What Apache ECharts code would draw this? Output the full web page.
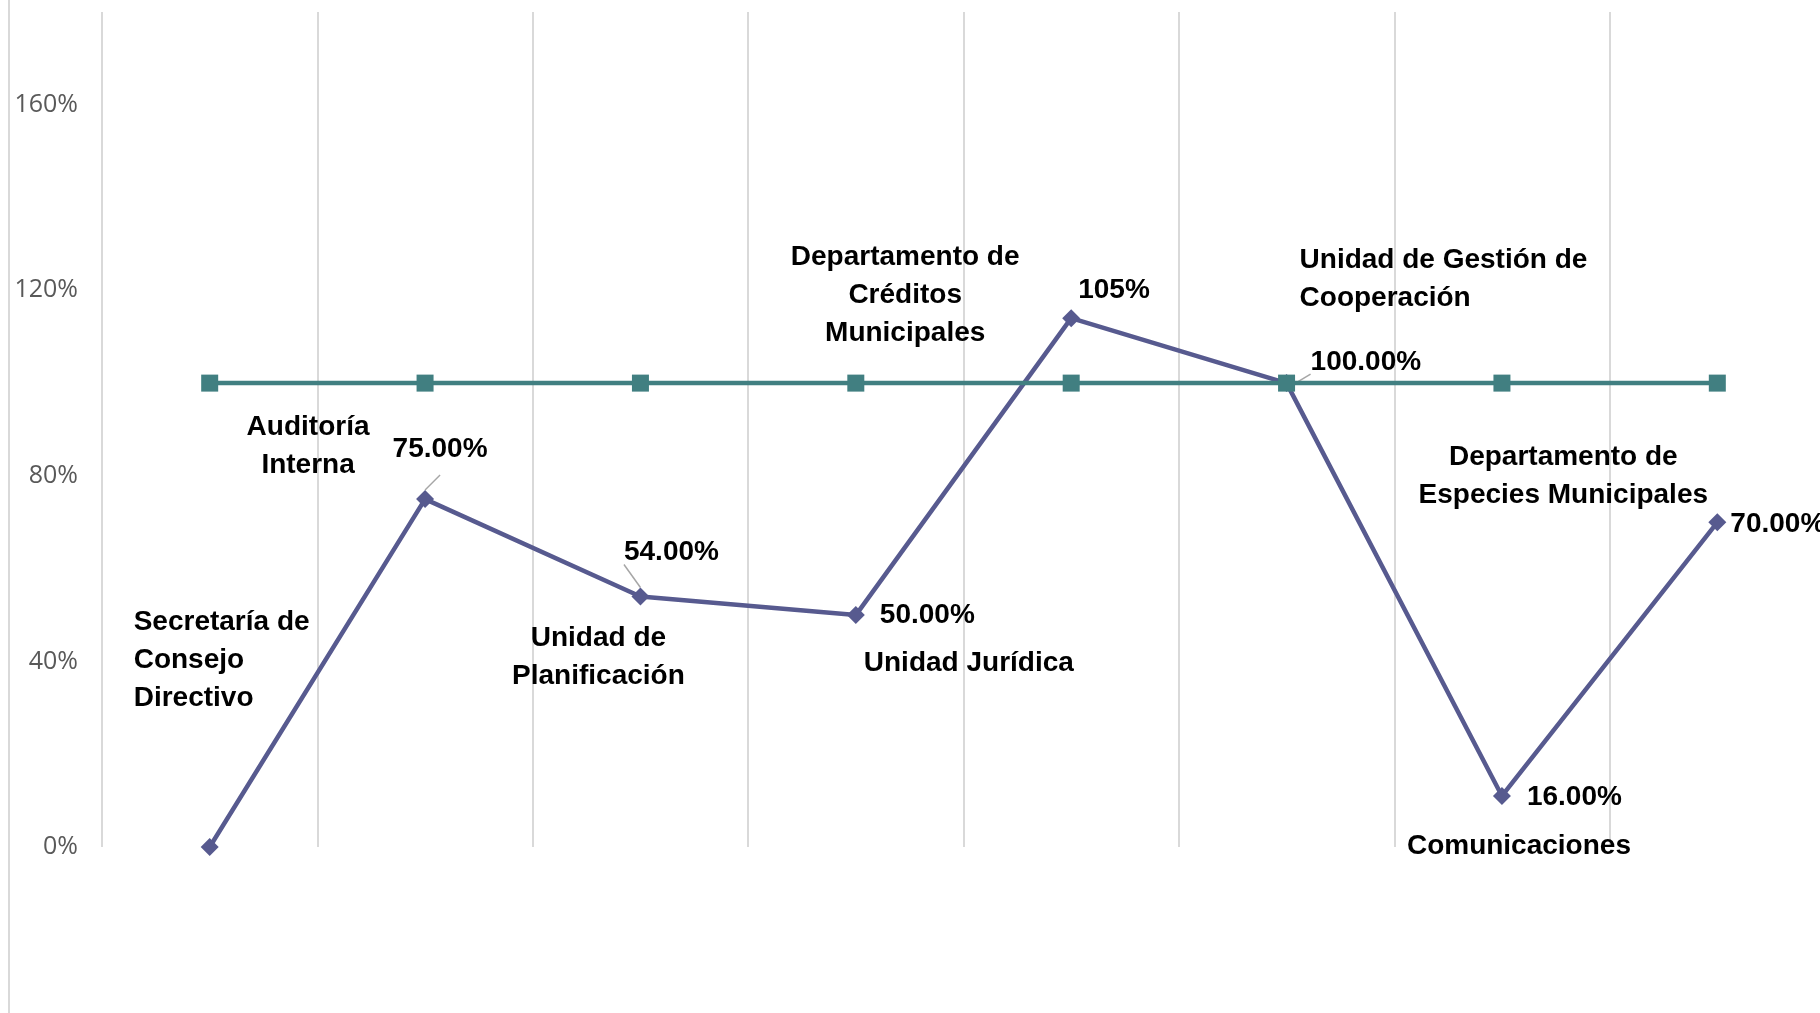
<!DOCTYPE html>
<html>
<head>
<meta charset="utf-8">
<script src="https://cdn.jsdelivr.net/npm/echarts@6/dist/echarts.min.js"></script>
<style>
html,body{margin:0;padding:0;background:#ffffff;}
#chart{width:1820px;height:1013px;}
</style>
</head>
<body>
<div id="chart"></div>
<script>
// ---- data ----
const categories = [
  'Secretaría de\nConsejo\nDirectivo',
  'Auditoría\nInterna',
  'Unidad de\nPlanificación',
  'Unidad Jurídica',
  'Departamento de\nCréditos\nMunicipales',
  'Unidad de Gestión de\nCooperación',
  'Comunicaciones',
  'Departamento de\nEspecies Municipales'
];
const logroValues = [0, 75, 54, 50, 114, 100, 11, 70];
const logroLabels = ['', '75.00%', '54.00%', '50.00%', '105%', '100.00%', '16.00%', '70.00%'];
const metaValues = [100, 100, 100, 100, 100, 100, 100, 100];
const yTickValues = [0, 40, 80, 120, 160];

// ---- label layout (style only) ----
const valueLabelOffsets = [[0, 0], [15, -50], [31, -44], [24, 0], [7, -28], [24, -21], [25, 1], [13, 2]];
const valueLabelAlign = ['center', 'center', 'center', 'left', 'left', 'left', 'left', 'left'];
const valueLeaders = [false, true, true, false, false, true, false, false];
const nameLabelOffsets = [[-76, 277], [-117, 63], [-42, 274], [113, 280], [-166, -88], [13, -104], [17, 463], [-154, 93]];
const nameLabelAlign = ['left', 'center', 'center', 'center', 'center', 'left', 'center', 'center'];

const purple = '#575A8F';
const teal = '#417F81';
const labelFont = {
  fontFamily: "'Liberation Sans Narrow', 'Arial Narrow', 'Liberation Sans', sans-serif",
  fontWeight: 'bold',
  fontSize: 28,
  lineHeight: 38,
  color: '#000000'
};

const chart = echarts.init(document.getElementById('chart'), null, {renderer: 'canvas'});

const option = {
  animation: false,
  backgroundColor: '#ffffff',
  grid: {left: 102, top: 12, width: 1723, bottom: 166, containLabel: false, outerBoundsMode: 'none'},
  xAxis: {
    type: 'category',
    data: categories,
    boundaryGap: true,
    axisLine: {show: false},
    axisTick: {show: false},
    axisLabel: {show: false},
    splitLine: {show: true, interval: 0, lineStyle: {color: '#d9d9d9', width: 2}}
  },
  yAxis: {
    type: 'value',
    min: 0,
    max: 180,
    interval: 40,
    axisLine: {show: false},
    axisTick: {show: false},
    splitLine: {show: false},
    axisLabel: {
      margin: 24,
      fontFamily: "'Open Sans', 'Noto Sans', sans-serif",
      fontSize: 25,
      color: '#595959',
      formatter: function (v) { return yTickValues.indexOf(v) >= 0 ? v + '%' : ''; }
    }
  },
  graphic: [{
    type: 'line',
    shape: {x1: 9, y1: 0, x2: 9, y2: 1013},
    style: {stroke: '#d9d9d9', lineWidth: 2},
    silent: true
  }],
  series: [
    {
      name: 'Logro',
      type: 'line',
      symbol: 'diamond',
      symbolSize: 18,
      lineStyle: {color: purple, width: 4.5},
      itemStyle: {color: purple},
      emphasis: {disabled: true},
      label: Object.assign({show: true, position: 'inside'}, labelFont, {lineHeight: 24}),
      labelLine: {show: false, lineStyle: {color: '#a6a6a6', width: 1.5}},
      data: logroValues.map(function (v, i) {
        return {
          value: v,
          label: {show: logroLabels[i] !== '', formatter: logroLabels[i], offset: valueLabelOffsets[i], align: valueLabelAlign[i]},
          labelLine: {show: valueLeaders[i], lineStyle: {color: '#a6a6a6', width: 1.5}}
        };
      }),
      z: 2
    },
    {
      name: 'Meta',
      type: 'line',
      symbol: 'rect',
      symbolSize: 17,
      lineStyle: {color: teal, width: 4.5},
      itemStyle: {color: teal},
      emphasis: {disabled: true},
      label: Object.assign({show: true, position: 'inside'}, labelFont),
      data: metaValues.map(function (v, i) {
        return {
          value: v,
          label: {formatter: categories[i], offset: nameLabelOffsets[i], align: nameLabelAlign[i]}
        };
      }),
      z: 3
    }
  ]
};
chart.setOption(option);
</script>
</body>
</html>
